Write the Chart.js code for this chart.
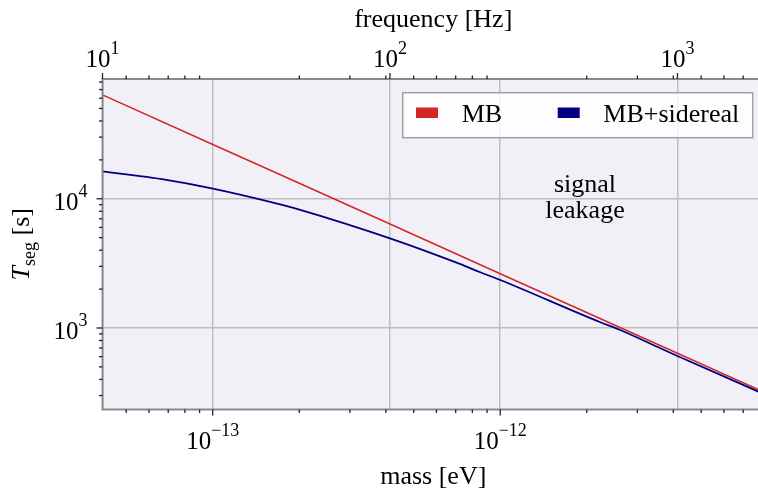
<!DOCTYPE html>
<html>
<head>
<meta charset="utf-8">
<script src="https://cdn.jsdelivr.net/npm/chart.js@4.4.0/dist/chart.umd.min.js"></script>
<style>
html, body { margin: 0; padding: 0; background: #fff; overflow: hidden; }
#wrap { width: 758px; height: 488px; overflow: hidden; }
canvas { display: block; }
</style>
</head>
<body>
<div id="wrap"><canvas id="chart" width="764" height="488"></canvas></div>
<script>
// points: frequency [Hz] -> T_seg [s]
const freqMB = [10, 24.2, 46.9, 100, 241.8, 1000, 2000];
const tsegMB = [63700, 26300, 13600, 6370, 2630, 637, 319];

const freqSid = [10, 12.5, 16.1, 24.2, 41.5, 46.8, 100, 175, 206, 242, 539, 632, 872, 1000, 2000];
const tsegSid = [16300, 15300, 14200, 12000, 9060, 8430, 4940, 3130, 2700, 2350, 1107, 965, 697, 607, 308];

const freqTicks = [10, 100, 1000];
const massTicks = [1e-13, 1e-12];
const tsegTicks = [1e3, 1e4];

const F_MIN = 10, F_MAX = 2000;
const H_EV = 4.1357e-15;           // eV s, mass = h * f
const M_MIN = F_MIN * H_EV, M_MAX = F_MAX * H_EV;
const T_MIN = 234, T_MAX = 84500;

const SERIF = '"Liberation Serif", "Times New Roman", serif';
const PLOT_TOP = 79, PLOT_BOTTOM = 409.5, PLOT_LEFT = 102.5;

function majorOnly(vals) {
  return s => { s.ticks = vals.map(v => ({ value: v, major: true })); };
}
const gridOpt = { color: '#bdbdbd', lineWidth: 1.5, drawTicks: false };

function minors(lo, hi) {
  const out = [];
  for (let e = Math.floor(Math.log10(lo)); e <= Math.ceil(Math.log10(hi)); e++) {
    for (let k = 2; k <= 9; k++) {
      const v = k * Math.pow(10, e);
      if (v >= lo && v <= hi) out.push(v);
    }
  }
  return out;
}

function supText(v) {
  const e = Math.round(Math.log10(v));
  return (e < 0 ? '\u2212' : '') + Math.abs(e);
}

// "10" with a raised exponent; y is the baseline of "10"
function drawPow(ctx, v, x, y, align) {
  const base = '10', sup = supText(v);
  ctx.font = '25px ' + SERIF;
  const wb = ctx.measureText(base).width;
  ctx.font = '18px ' + SERIF;
  const ws = ctx.measureText(sup).width;
  const w = wb + ws;
  const x0 = align === 'center' ? x - w / 2 : align === 'right' ? x - w : x;
  ctx.textAlign = 'left';
  ctx.textBaseline = 'alphabetic';
  ctx.font = '25px ' + SERIF;
  ctx.fillText(base, x0, y);
  ctx.font = '18px ' + SERIF;
  ctx.fillText(sup, x0 + wb, y - 13);
}

const frame = {
  id: 'frame',
  beforeDraw(chart) {
    const { ctx, chartArea: a } = chart;
    ctx.save();
    ctx.fillStyle = '#f2f0f7';
    ctx.fillRect(a.left, a.top, a.right - a.left, a.bottom - a.top);
    ctx.restore();
  },
  afterDraw(chart) {
    const { ctx, chartArea: a } = chart;
    const fx = chart.scales.x, mx = chart.scales.mass, ty = chart.scales.y;
    ctx.save();

    // spines
    ctx.strokeStyle = '#8a8a8a';
    ctx.lineWidth = 2;
    ctx.strokeRect(a.left, a.top, a.right - a.left, a.bottom - a.top);

    // tick marks, pointing out
    ctx.strokeStyle = '#222';
    ctx.lineWidth = 1.3;
    const tick = (x1, y1, x2, y2) => { ctx.beginPath(); ctx.moveTo(x1, y1); ctx.lineTo(x2, y2); ctx.stroke(); };
    minors(M_MIN, M_MAX).forEach(m => {
      const px = mx.getPixelForValue(m);
      tick(px, a.bottom, px, a.bottom + 3.5);
      tick(px, a.top, px, a.top - 3.5);
    });
    massTicks.forEach(m => { const px = mx.getPixelForValue(m); tick(px, a.bottom, px, a.bottom + 6); });
    freqTicks.forEach(f => { const px = fx.getPixelForValue(f); tick(px, a.top, px, a.top - 6); });
    minors(T_MIN, T_MAX).forEach(t => { const py = ty.getPixelForValue(t); tick(a.left, py, a.left - 3.5, py); });
    tsegTicks.forEach(t => { const py = ty.getPixelForValue(t); tick(a.left, py, a.left - 6, py); });

    // tick labels
    ctx.fillStyle = '#000';
    freqTicks.forEach(f => drawPow(ctx, f, fx.getPixelForValue(f), 66.7, 'center'));
    massTicks.forEach(m => drawPow(ctx, m, mx.getPixelForValue(m), 449, 'center'));
    tsegTicks.forEach(t => drawPow(ctx, t, 87.5, ty.getPixelForValue(t) + 11.5, 'right'));

    // axis titles
    const cx = (a.left + a.right) / 2;
    ctx.font = '26px ' + SERIF;
    ctx.textAlign = 'center';
    ctx.textBaseline = 'alphabetic';
    ctx.fillText('frequency [Hz]', cx, 27);
    ctx.fillText('mass [eV]', cx, 483.5);

    // y title: T_seg [s]
    ctx.save();
    ctx.translate(29, (a.top + a.bottom) / 2);
    ctx.rotate(-Math.PI / 2);
    const parts = [
      { t: 'T', f: 'italic 26px ' + SERIF, dy: 0 },
      { t: 'seg', f: '18px ' + SERIF, dy: 6 },
      { t: ' [s]', f: '26px ' + SERIF, dy: 0 }
    ];
    let tw = 0;
    parts.forEach(p => { ctx.font = p.f; p.w = ctx.measureText(p.t).width; tw += p.w; });
    let xx = -tw / 2;
    ctx.textAlign = 'left';
    parts.forEach(p => { ctx.font = p.f; ctx.fillText(p.t, xx, p.dy); xx += p.w; });
    ctx.restore();

    // legend
    ctx.fillStyle = 'rgba(255,255,255,0.8)';
    ctx.fillRect(402.7, 92.7, 350, 45);
    ctx.strokeStyle = '#a0a0a0';
    ctx.lineWidth = 1.5;
    ctx.strokeRect(402.7, 92.7, 350, 45);
    const slots = [{ patch: 416, text: 461.7 }, { patch: 557.7, text: 603.3 }];
    chart.data.datasets.forEach((ds, i) => {
      ctx.fillStyle = ds.borderColor;
      ctx.fillRect(slots[i].patch, 107.5, 22, 10.5);
      ctx.fillStyle = '#000';
      ctx.font = '26px ' + SERIF;
      ctx.textAlign = 'left';
      ctx.fillText(ds.label, slots[i].text, 121.7);
    });

    // annotation
    ctx.textAlign = 'center';
    ctx.fillText('signal', 585, 192);
    ctx.fillText('leakage', 585, 218);

    ctx.restore();
  }
};

new Chart(document.getElementById('chart'), {
  type: 'line',
  data: {
    datasets: [
      {
        label: 'MB',
        data: freqMB.map((f, i) => ({ x: f, y: tsegMB[i] })),
        borderColor: '#d62728',
        borderWidth: 1.6,
        pointRadius: 0,
        tension: 0,
        order: 1
      },
      {
        label: 'MB+sidereal',
        data: freqSid.map((f, i) => ({ x: f, y: tsegSid[i] })),
        borderColor: '#000080',
        borderWidth: 1.8,
        pointRadius: 0,
        cubicInterpolationMode: 'monotone',
        order: 0
      }
    ]
  },
  options: {
    responsive: false,
    animation: false,
    devicePixelRatio: 1,
    layout: { padding: 0 },
    plugins: { legend: { display: false }, tooltip: { enabled: false } },
    scales: {
      x: {
        type: 'logarithmic', position: 'top', min: F_MIN, max: F_MAX,
        afterBuildTicks: majorOnly(freqTicks),
        afterFit: s => { s.height = PLOT_TOP; },
        grid: gridOpt, border: { display: false }, ticks: { display: false }
      },
      mass: {
        type: 'logarithmic', axis: 'x', position: 'bottom', min: M_MIN, max: M_MAX,
        afterBuildTicks: majorOnly(massTicks),
        afterFit: s => { s.height = 488 - PLOT_BOTTOM; },
        grid: gridOpt, border: { display: false }, ticks: { display: false }
      },
      y: {
        type: 'logarithmic', position: 'left', min: T_MIN, max: T_MAX,
        afterBuildTicks: majorOnly(tsegTicks),
        afterFit: s => { s.width = PLOT_LEFT; },
        grid: gridOpt, border: { display: false }, ticks: { display: false }
      }
    }
  },
  plugins: [frame]
});
</script>
</body>
</html>
